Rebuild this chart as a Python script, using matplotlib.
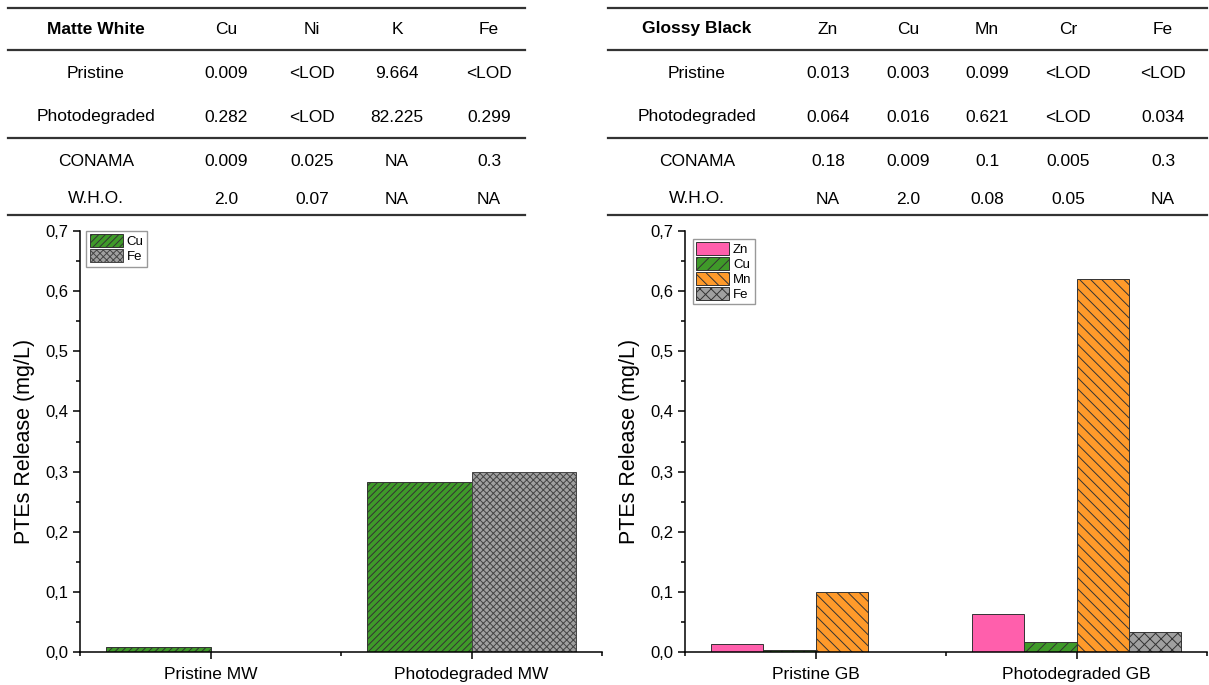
import numpy as np
import matplotlib.pyplot as plt
from matplotlib.lines import Line2D
from matplotlib.ticker import MultipleLocator, FuncFormatter, FixedLocator

plt.rcParams['font.family'] = ['Liberation Sans', 'DejaVu Sans']
plt.rcParams['hatch.linewidth'] = 0.7

# table data
mw_cols = ['Cu', 'Ni', 'K', 'Fe']
mw_rows = ['Pristine', 'Photodegraded', 'CONAMA', 'W.H.O.']
mw_pristine = ['0.009', '<LOD', '9.664', '<LOD']
mw_photo = ['0.282', '<LOD', '82.225', '0.299']
mw_conama = ['0.009', '0.025', 'NA', '0.3']
mw_who = ['2.0', '0.07', 'NA', 'NA']

gb_cols = ['Zn', 'Cu', 'Mn', 'Cr', 'Fe']
gb_rows = ['Pristine', 'Photodegraded', 'CONAMA', 'W.H.O.']
gb_pristine = ['0.013', '0.003', '0.099', '<LOD', '<LOD']
gb_photo = ['0.064', '0.016', '0.621', '<LOD', '0.034']
gb_conama = ['0.18', '0.009', '0.1', '0.005', '0.3']
gb_who = ['NA', '2.0', '0.08', '0.05', 'NA']

# bar data (<LOD drawn as 0)
mw_groups = ['Pristine MW', 'Photodegraded MW']
mw_elems = ['Cu', 'Fe']
mw_cu = [0.009, 0.282]
mw_fe = [0.0, 0.299]

gb_groups = ['Pristine GB', 'Photodegraded GB']
gb_elems = ['Zn', 'Cu', 'Mn', 'Fe']
gb_zn = [0.013, 0.064]
gb_cu = [0.003, 0.016]
gb_mn = [0.099, 0.621]
gb_fe = [0.0, 0.034]

colors = {'Zn': '#ff5fac', 'Cu': '#3f9a29', 'Mn': '#ff9a2a', 'Fe': '#a0a0a0'}

W, H = 1209, 685
fig = plt.figure(figsize=(W / 100, H / 100), dpi=100)


def px(x, y):
    return x / W, 1 - y / H


def draw_table(x0, x1, title, cols, colx, labx, rows, data):
    for yy in [8, 50, 138, 215]:
        fig.add_artist(Line2D([x0 / W, x1 / W], [1 - yy / H] * 2, color='#333333', lw=1.6))
    fig.text(*px(labx, 29), title, ha='center', va='center', fontsize=12.5, fontweight='bold')
    for c, cx in zip(cols, colx):
        fig.text(*px(cx, 29), c, ha='center', va='center', fontsize=12.5)
    for r, ry, vals in zip(rows, [73, 117, 161, 199], data):
        fig.text(*px(labx, ry), r, ha='center', va='center', fontsize=12.5)
        for v, cx in zip(vals, colx):
            fig.text(*px(cx, ry + 1), v, ha='center', va='center', fontsize=12.5)


draw_table(8, 525, 'Matte White', mw_cols, [226, 312, 397, 489], 96, mw_rows,
           [mw_pristine, mw_photo, mw_conama, mw_who])
draw_table(608, 1207, 'Glossy Black', gb_cols, [828, 908, 987, 1068, 1163], 697, gb_rows,
           [gb_pristine, gb_photo, gb_conama, gb_who])


def style_axes(ax, groups):
    ax.set_xlim(0.5, 2.5)
    ax.set_ylim(0, 0.7)
    ax.spines['top'].set_visible(False)
    ax.spines['right'].set_visible(False)
    for s in ['left', 'bottom']:
        ax.spines[s].set_linewidth(1.1)
    ax.xaxis.set_major_locator(FixedLocator([1, 2]))
    ax.xaxis.set_minor_locator(FixedLocator([0.5, 1.5, 2.5]))
    ax.set_xticklabels(groups, fontsize=12.5)
    ax.yaxis.set_major_locator(MultipleLocator(0.1))
    ax.yaxis.set_minor_locator(MultipleLocator(0.05))
    ax.yaxis.set_major_formatter(FuncFormatter(lambda v, p: f'{v:.1f}'.replace('.', ',')))
    ax.tick_params(axis='y', labelsize=12)
    ax.tick_params(which='major', direction='out', length=5, width=1.1)
    ax.tick_params(which='minor', direction='out', length=3, width=1.1)
    ax.tick_params(axis='x', pad=6)
    ax.set_ylabel('PTEs Release (mg/L)', fontsize=15.5, labelpad=7)


x = np.arange(1, 3)

# Matte White
ax1 = fig.add_axes([80 / W, 1 - 652 / H, 522 / W, 421 / H])
w = 0.4
ax1.bar(x - w / 2, mw_cu, w, color=colors['Cu'], edgecolor='#333333', lw=0.7, hatch='/////', label='Cu')
ax1.bar(x + w / 2, mw_fe, w, color=colors['Fe'], edgecolor='#444444', lw=0.7, hatch='xxxxx', label='Fe')
style_axes(ax1, mw_groups)
ax1.legend(loc='upper left', bbox_to_anchor=(0.012, 1.0), fontsize=9.5, frameon=True, fancybox=False,
           edgecolor='#999999', framealpha=1, handlelength=2.5, handleheight=1.1,
           labelspacing=0.1, borderpad=0.25, handletextpad=0.3, borderaxespad=0)

# Glossy Black
ax2 = fig.add_axes([685 / W, 1 - 652 / H, 522 / W, 421 / H])
w = 0.2
series = [gb_zn, gb_cu, gb_mn, gb_fe]
hatches = ['', '///', '\\\\\\', 'xxx']
for i, (el, vals, hh) in enumerate(zip(gb_elems, series, hatches)):
    ax2.bar(x + (i - 1.5) * w, vals, w, color=colors[el], edgecolor='#333333', lw=0.7, hatch=hh, label=el)
style_axes(ax2, gb_groups)
ax2.legend(loc='upper left', bbox_to_anchor=(0.015, 0.982), fontsize=9.5, frameon=True, fancybox=False,
           edgecolor='#999999', framealpha=1, handlelength=2.5, handleheight=1.1,
           labelspacing=0.1, borderpad=0.25, handletextpad=0.3, borderaxespad=0)

fig.savefig('out.png', dpi=100)
